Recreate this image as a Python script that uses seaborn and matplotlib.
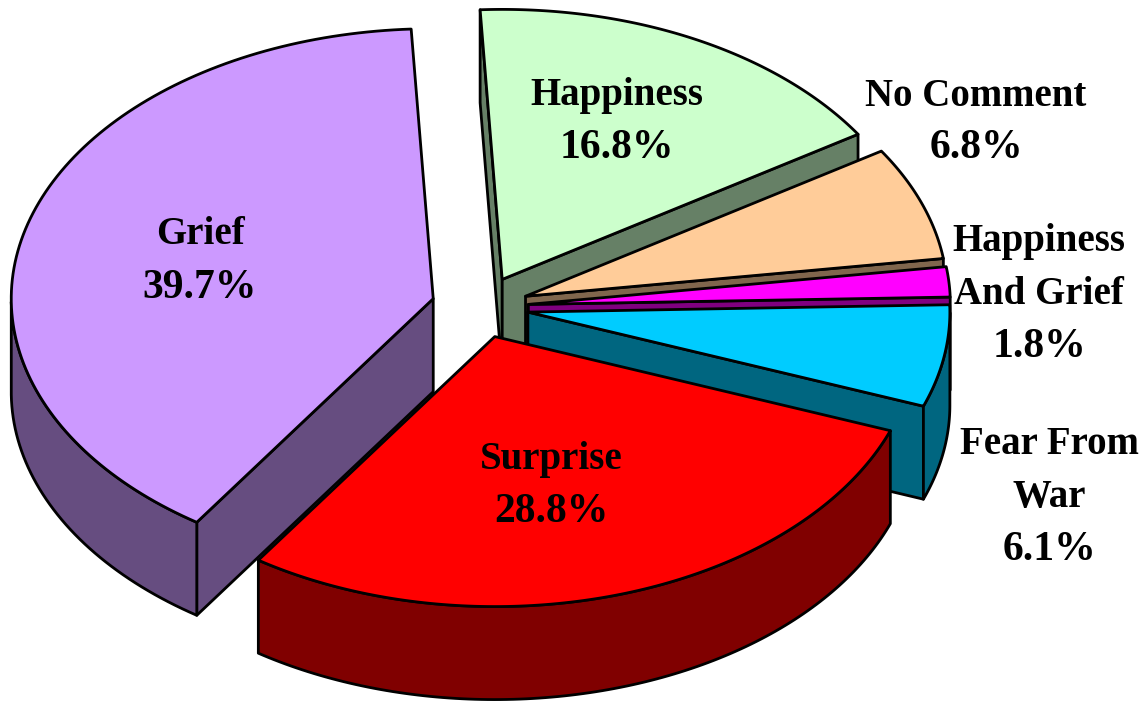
import numpy as np
import matplotlib
matplotlib.use("Agg")
import matplotlib.pyplot as plt
from matplotlib.patches import Polygon
import seaborn as sns

# clockwise from the top, same order as the chart
categories = ["Happiness", "No Comment", "Happiness\nAnd Grief", "Fear From\nWar", "Surprise", "Grief"]
shares = [16.8, 6.8, 1.8, 6.1, 28.8, 39.7]
slice_colors = ["#CCFFCC", "#FFCC99", "#FF00FF", "#00CCFF", "#FF0000", "#CC99FF"]

# pie geometry in image pixels
CENTER = (480, 307)
RX, RY = 422, 270
DEPTH = 93
EXPLODE = 0.115
START = 93.0
LINE_PX = 53

# label anchor for each category (pixels)
label_pos = [(617, 118), (976, 119), (1039, 291), (1049, 494), (551, 482), (200, 258)]

sns.set_theme(style="white")
plt.rcParams["font.family"] = ["Liberation Serif", "DejaVu Serif"]
palette = sns.color_palette(slice_colors)


def rim(cx, cy, t0, t1):
    t = np.radians(np.linspace(t0, t1, 120))
    return np.column_stack([cx + RX * np.cos(t), cy - RY * np.sin(t)])


def cross(a, b):
    return a[0] * b[1] - a[1] * b[0]


def draw_slice(ax, t0, t1, color):
    mid = np.radians((t0 + t1) / 2)
    cx = CENTER[0] + EXPLODE * RX * np.cos(mid)
    cy = CENTER[1] - EXPLODE * RY * np.sin(mid)
    arc = rim(cx, cy, t0, t1)
    apex = np.array([cx, cy])
    down = np.array([0, DEPTH])
    inward = arc[len(arc) // 2] - apex
    side = tuple(c * 0.5 for c in color)
    style = dict(edgecolor="black", linewidth=2.0, joinstyle="round")

    # cut walls, skip the ones that sit under the slice top
    for end in (arc[0], arc[-1]):
        edge = end - apex
        if cross(edge, down) * cross(edge, inward) < 0:
            wall = [apex, end, end + down, apex + down]
            ax.add_patch(Polygon(wall, facecolor=side, **style))

    # outer wall, only the part facing the viewer
    t = np.linspace(t0, t1, 120)
    front = np.sin(np.radians(t)) <= 0
    if front.any():
        front_arc = arc[front]
        ax.add_patch(Polygon(np.vstack([front_arc, (front_arc + down)[::-1]]),
                             facecolor=side, **style))

    ax.add_patch(Polygon(np.vstack([apex, arc]), facecolor=color, **style))


fig = plt.figure(figsize=(11.46, 7.08), dpi=100)
ax = fig.add_axes([0, 0, 1, 1])
ax.set_xlim(0, 1146)
ax.set_ylim(708, 0)
ax.axis("off")

sweeps = np.array(shares) / sum(shares) * 360
ends = START - np.cumsum(sweeps)
starts = ends + sweeps
mids = np.radians((starts + ends) / 2)

# back to front
for i in np.argsort(-np.sin(mids)):
    draw_slice(ax, starts[i], ends[i], palette[i])

# percent lines run a bit bigger than the names in the original
for name, share, (x, y) in zip(categories, shares, label_pos):
    lines = name.split("\n") + [f"{share:.1f}%"]
    for k, line in enumerate(lines):
        base = y + (k - (len(lines) - 1) / 2) * LINE_PX + 13
        size = 30 if k == len(lines) - 1 else 28
        ax.text(x, base, line, ha="center", va="baseline",
                fontsize=size, fontweight="bold", color="black")

fig.savefig("out.png", dpi=100)
plt.close(fig)
